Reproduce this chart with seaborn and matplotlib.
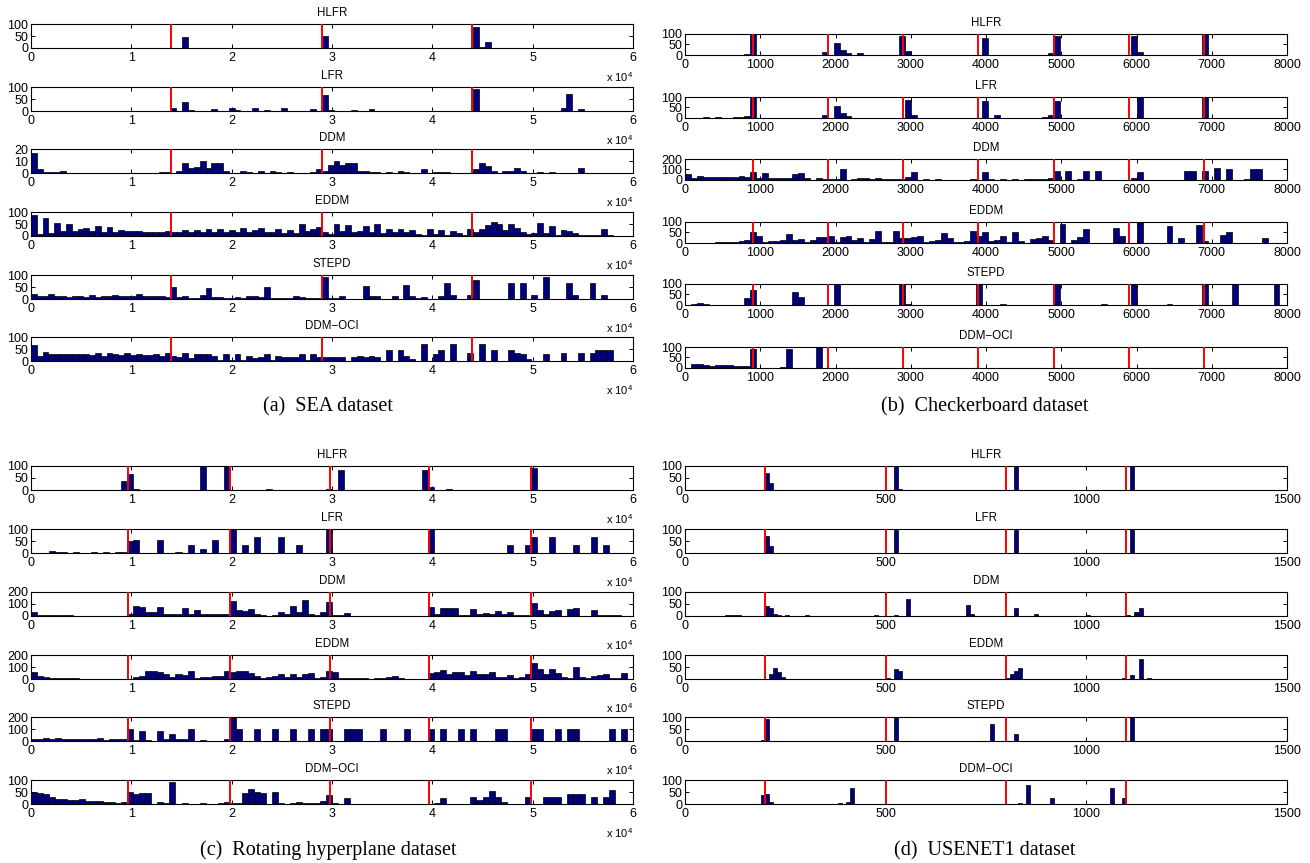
import numpy as np
import pandas as pd
import matplotlib
matplotlib.use("Agg")
import matplotlib.pyplot as plt
import seaborn as sns

# ---------------------------------------------------------------------------
# Detection-count histograms (bin index -> number of detections) per detector.
# Dense lists give every bin; dicts list only the non-empty bins.
# ---------------------------------------------------------------------------
DETECTORS = ["HLFR", "LFR", "DDM", "EDDM", "STEPD", "DDM\u2212OCI"]

# (a) SEA: 100 bins over 0..58000
SEA_EDGES = (0, 58000, 100)
SEA_DRIFTS = [14000, 29000, 44000]
SEA_YMAX = [100, 100, 20, 100, 100, 100]
SEA_HLFR = {11: 1, 13: 1, 15: 1, 26: 46, 30: 1, 35: 1, 40: 1, 45: 1, 50: 51, 51: 2,
            55: 1, 60: 1, 70: 1, 76: 89, 77: 3, 78: 24, 79: 2, 80: 1, 82: 1}
SEA_LFR = {1: 2, 3: 2, 6: 2, 10: 2, 12: 2, 14: 2, 17: 2, 19: 2, 21: 2, 24: 13, 26: 38,
           27: 6, 29: 2, 31: 7, 33: 2, 34: 12, 35: 3, 38: 12, 40: 3, 43: 12, 46: 2,
           48: 8, 50: 68, 51: 4, 53: 2, 55: 5, 58: 7, 61: 2, 63: 2, 66: 2, 69: 2,
           73: 2, 76: 92, 77: 2, 79: 2, 82: 2, 86: 2, 88: 2, 91: 12, 92: 70, 94: 10}
SEA_DDM = {0: 17, 1: 3, 2: 1, 3: 1, 4: 1, 5: 2, 22: 1, 23: 1, 25: 2, 26: 8, 27: 4,
           28: 5, 29: 10, 30: 4, 31: 8, 32: 8, 33: 2, 36: 2, 37: 1, 39: 2, 41: 2,
           42: 1, 44: 1, 48: 1, 49: 3, 50: 2, 51: 7, 52: 10, 53: 7, 54: 8, 55: 8,
           56: 2, 57: 2, 58: 1, 59: 1, 61: 1, 63: 2, 64: 1, 67: 3, 69: 1, 70: 1,
           71: 1, 76: 3, 77: 8, 78: 6, 79: 2, 81: 2, 82: 2, 83: 4, 84: 2, 87: 1,
           89: 1, 94: 4}
SEA_EDDM = [86, 8, 75, 12, 55, 20, 48, 22, 28, 32,
            20, 40, 15, 38, 18, 25, 22, 20, 22, 18,
            18, 15, 15, 20, 18, 15, 25, 15, 25, 18,
            30, 15, 28, 18, 25, 15, 32, 18, 25, 32,
            15, 15, 30, 12, 25, 12, 50, 22, 30, 38,
            18, 10, 50, 20, 45, 15, 22, 42, 18, 48,
            12, 30, 15, 30, 18, 25, 8, 5, 28, 10,
            25, 5, 20, 12, 5, 28, 15, 30, 45, 58,
            50, 25, 48, 35, 15, 10, 12, 55, 12, 40,
            5, 25, 20, 12, 3, 3, 3, 3, 28, 5]
SEA_STEPD = [20, 12, 12, 20, 12, 12, 10, 12, 12, 10,
             15, 10, 12, 12, 15, 12, 12, 12, 20, 12,
             12, 12, 12, 10, 50, 10, 12, 3, 3, 18,
             47, 10, 10, 3, 5, 8, 5, 12, 12, 10,
             50, 3, 5, 3, 5, 12, 8, 5, 3, 5,
             92, 3, 5, 12, 0, 0, 0, 55, 12, 12,
             0, 0, 12, 0, 57, 12, 5, 8, 0, 0,
             12, 65, 15, 0, 0, 18, 78, 0, 0, 0,
             0, 0, 67, 0, 67, 0, 18, 0, 90, 0,
             0, 0, 65, 15, 0, 0, 65, 0, 18, 0]
SEA_OCI = [68, 20, 38, 30, 28, 28, 30, 28, 28, 30,
           25, 35, 20, 35, 28, 25, 35, 25, 28, 25,
           25, 28, 20, 35, 22, 15, 35, 12, 28, 30,
           28, 22, 5, 28, 5, 30, 5, 20, 12, 15,
           28, 5, 20, 18, 18, 18, 28, 5, 28, 15,
           15, 15, 15, 15, 0, 15, 22, 18, 22, 18,
           0, 45, 0, 45, 20, 8, 0, 70, 0, 30,
           45, 0, 70, 0, 0, 35, 0, 70, 0, 45,
           0, 0, 45, 35, 30, 8, 0, 0, 30, 0,
           0, 35, 0, 0, 35, 0, 35, 45, 45, 45]

# (b) Checkerboard: 100 bins over 0..7900
CHK_EDGES = (0, 7900, 100)
CHK_DRIFTS = [900, 1900, 2900, 3900, 4900, 5900, 6900]
CHK_YMAX = [100, 100, 200, 100, 100, 100]
CHK_HLFR = {10: 3, 11: 100, 23: 15, 25: 55, 26: 22, 27: 8, 29: 8, 36: 90, 37: 18,
            50: 80, 61: 8, 62: 90, 75: 92, 76: 12, 87: 100}
CHK_LFR = {3: 3, 5: 3, 8: 3, 9: 3, 10: 8, 11: 100, 23: 15, 25: 55, 26: 25, 27: 8,
           37: 88, 38: 15, 50: 80, 52: 15, 60: 3, 61: 12, 62: 80, 76: 100, 87: 100}
CHK_DDM = {0: 55, 1: 15, 2: 40, 3: 25, 4: 32, 5: 32, 6: 25, 7: 30, 8: 25, 9: 40,
           10: 25, 11: 72, 12: 15, 13: 65, 14: 15, 15: 15, 16: 15, 17: 15, 18: 58,
           19: 70, 20: 22, 22: 15, 23: 10, 24: 10, 25: 5, 26: 100, 28: 8, 29: 15,
           30: 22, 31: 5, 32: 22, 33: 8, 34: 8, 35: 5, 36: 5, 37: 32, 38: 75, 39: 3,
           40: 8, 42: 8, 43: 3, 44: 3, 45: 3, 46: 3, 47: 3, 48: 5, 50: 80, 51: 10,
           53: 12, 55: 8, 57: 5, 58: 10, 59: 5, 60: 8, 61: 15, 62: 90, 64: 90, 66: 8,
           67: 90, 69: 90, 75: 15, 76: 80, 84: 84, 85: 84, 87: 84, 89: 118, 91: 103,
           92: 3, 94: 5, 95: 100, 96: 100}
CHK_EDDM = [0, 0, 0, 0, 0, 3, 3, 5, 5, 8,
            12, 50, 35, 3, 8, 8, 15, 45, 12, 20,
            3, 12, 28, 28, 35, 3, 28, 35, 15, 25,
            3, 20, 55, 5, 5, 55, 22, 25, 30, 35,
            3, 8, 12, 48, 25, 3, 3, 10, 55, 35,
            50, 8, 12, 35, 5, 50, 8, 0, 20, 25,
            35, 15, 0, 90, 0, 15, 28, 65, 0, 0,
            0, 0, 70, 35, 0, 0, 100, 0, 0, 0,
            0, 80, 0, 22, 0, 0, 85, 10, 0, 0,
            40, 50, 0, 0, 0, 0, 0, 22, 0, 0]
CHK_STEPD = {1: 3, 2: 8, 3: 3, 4: 2, 5: 2, 6: 2, 7: 2, 8: 2, 9: 2, 10: 35, 11: 72,
             18: 64, 19: 38, 25: 100, 36: 100, 37: 3, 49: 100, 53: 3, 58: 2, 62: 100,
             66: 2, 70: 3, 75: 100, 81: 3, 87: 100, 92: 100, 99: 100}
CHK_OCI = {1: 18, 2: 18, 3: 12, 4: 8, 5: 12, 6: 12, 7: 12, 8: 8, 9: 8, 10: 8, 11: 92,
           16: 5, 17: 90, 22: 98, 28: 2, 34: 2, 37: 2, 40: 2, 44: 2, 52: 2, 55: 2,
           58: 2, 62: 2, 65: 2, 68: 2, 72: 2, 74: 2, 80: 2, 85: 2, 90: 2, 97: 2}

# (c) Rotating hyperplane: 100 bins over 0..60000
ROT_EDGES = (0, 60000, 100)
ROT_DRIFTS = [9700, 19800, 29800, 39700, 49800]
ROT_YMAX = [100, 100, 200, 200, 200, 100]
ROT_HLFR = {15: 38, 16: 65, 17: 3, 28: 100, 32: 100, 39: 3, 41: 1, 43: 1, 49: 5,
            51: 82, 65: 85, 66: 12, 69: 3, 83: 90}
ROT_LFR = {3: 8, 4: 5, 5: 3, 7: 3, 10: 3, 12: 3, 14: 3, 15: 3, 16: 48, 17: 55,
           21: 55, 24: 3, 26: 34, 28: 18, 30: 55, 33: 100, 35: 35, 37: 65, 41: 65,
           44: 35, 49: 100, 66: 100, 79: 35, 82: 35, 83: 65, 86: 65, 90: 35, 93: 65,
           95: 35}
ROT_DDM = {0: 35, 1: 8, 2: 5, 3: 5, 4: 5, 5: 5, 6: 5, 7: 3, 8: 2, 9: 2, 10: 2,
           11: 2, 12: 2, 13: 2, 14: 2, 16: 20, 17: 85, 18: 75, 19: 30, 20: 35,
           21: 75, 22: 20, 23: 15, 24: 15, 25: 70, 26: 20, 27: 50, 28: 20, 29: 15,
           30: 15, 31: 20, 32: 15, 33: 125, 34: 50, 35: 40, 36: 60, 37: 15, 38: 5,
           40: 5, 41: 35, 42: 15, 43: 80, 44: 35, 45: 130, 46: 15, 47: 5, 48: 30,
           49: 120, 50: 12, 51: 10, 52: 25, 53: 3, 54: 3, 55: 3, 56: 3, 57: 3,
           58: 3, 59: 3, 61: 3, 62: 3, 66: 75, 67: 15, 68: 65, 69: 65, 70: 70,
           71: 12, 72: 12, 73: 60, 74: 15, 75: 25, 76: 20, 77: 40, 78: 15, 79: 35,
           80: 5, 81: 5, 82: 12, 83: 108, 84: 50, 85: 15, 86: 45, 87: 50, 89: 60,
           90: 70, 93: 50, 94: 5, 95: 5, 96: 5, 97: 5}
ROT_EDDM = [60, 28, 20, 12, 8, 5, 12, 5, 3, 3,
            2, 2, 2, 2, 2, 0, 3, 20, 25, 65,
            65, 60, 45, 15, 45, 35, 65, 5, 20, 15,
            25, 25, 65, 60, 65, 65, 50, 25, 5, 15,
            25, 45, 20, 40, 15, 40, 50, 5, 20, 63,
            57, 12, 12, 12, 12, 10, 3, 5, 5, 15,
            25, 10, 2, 2, 2, 0, 51, 55, 74, 45,
            55, 60, 30, 65, 40, 45, 55, 15, 20, 35,
            8, 15, 40, 130, 86, 40, 80, 50, 15, 8,
            97, 15, 8, 25, 35, 40, 10, 10, 50, 0]
ROT_STEPD = {0: 20, 1: 20, 2: 25, 3: 20, 4: 25, 5: 20, 6: 20, 7: 20, 8: 20, 9: 20,
             10: 20, 11: 25, 12: 12, 13: 20, 14: 20, 15: 20, 16: 100, 17: 10,
             18: 85, 19: 10, 21: 85, 22: 20, 23: 60, 24: 15, 25: 20, 26: 100,
             28: 10, 29: 3, 32: 20, 33: 200, 34: 100, 37: 100, 40: 100, 43: 100,
             46: 100, 48: 100, 49: 100, 52: 100, 53: 100, 54: 100, 58: 100,
             62: 100, 66: 100, 68: 100, 71: 100, 73: 100, 77: 100, 78: 100,
             83: 100, 84: 100, 87: 100, 89: 100, 90: 100, 96: 100, 98: 100}
ROT_OCI = {0: 52, 1: 45, 2: 42, 3: 28, 4: 22, 5: 22, 6: 15, 7: 15, 8: 20, 9: 12,
           10: 12, 11: 12, 12: 8, 13: 8, 14: 5, 15: 8, 16: 52, 17: 40, 18: 45,
           19: 45, 21: 8, 22: 5, 23: 93, 25: 5, 27: 2, 28: 3, 29: 2, 30: 2, 31: 3,
           32: 8, 33: 5, 34: 5, 35: 45, 36: 62, 37: 50, 38: 45, 40: 50, 41: 3,
           42: 2, 43: 5, 44: 8, 45: 5, 46: 3, 47: 5, 48: 12, 49: 38, 50: 5, 52: 25,
           67: 5, 68: 25, 73: 28, 74: 15, 75: 30, 76: 56, 77: 30, 78: 8, 82: 28,
           83: 2, 85: 28, 86: 28, 87: 28, 89: 42, 90: 42, 91: 42, 93: 28, 95: 30,
           96: 57}

# (d) USENET1: 150 bins over 0..1500
USE_EDGES = (0, 1500, 150)
USE_DRIFTS = [200, 500, 800, 1100]
USE_YMAX = [100, 100, 100, 100, 100, 100]
USE_HLFR = {19: 2, 20: 70, 21: 28, 52: 100, 53: 5, 82: 100, 111: 100}
USE_LFR = {20: 72, 21: 28, 52: 95, 82: 95, 111: 100}
USE_DDM = {10: 5, 11: 5, 12: 5, 13: 3, 20: 42, 21: 35, 22: 8, 23: 3, 25: 3, 30: 3,
           40: 2, 47: 3, 52: 5, 55: 70, 70: 45, 71: 10, 82: 35, 87: 8, 100: 3,
           110: 5, 112: 15, 113: 35}
USE_EDDM = {21: 20, 22: 45, 23: 30, 24: 10, 50: 5, 52: 40, 53: 32, 80: 5, 81: 20,
            82: 35, 83: 45, 109: 5, 111: 15, 113: 85, 115: 5}
USE_STEPD = {8: 2, 19: 3, 20: 90, 52: 100, 76: 70, 82: 28, 111: 100}
USE_OCI = {17: 2, 19: 38, 20: 40, 21: 10, 34: 2, 38: 5, 40: 8, 41: 65, 83: 5,
           85: 80, 91: 25, 106: 68, 109: 25, 133: 2}

# ---------------------------------------------------------------------------
# Styling
# ---------------------------------------------------------------------------
sns.set_theme(style="white")
plt.rcParams["font.family"] = ["Liberation Sans", "DejaVu Sans"]
plt.rcParams["mathtext.fontset"] = "custom"
plt.rcParams["mathtext.rm"] = "Liberation Sans"
plt.rcParams["mathtext.default"] = "regular"
plt.rcParams["axes.edgecolor"] = "black"
plt.rcParams["axes.linewidth"] = 0.8

NAVY = "#00007f"
FIG_W, FIG_H = 1310, 863
TICK_FS = 9
TITLE_FS = 8.3

fig = plt.figure(figsize=(FIG_W / 100, FIG_H / 100), dpi=100)
fig.patch.set_facecolor("white")


def to_counts(spec, n):
    if isinstance(spec, dict):
        c = np.zeros(n)
        for k, v in spec.items():
            c[k] = v
        return c
    return np.asarray(spec, dtype=float)


def add_axes_px(left, top, width, height):
    return fig.add_axes([left / FIG_W, 1 - (top + height) / FIG_H,
                         width / FIG_W, height / FIG_H])


def draw_group(left, tops, height, edges_spec, series, ymaxes, drifts,
               xlim, xticks, xlabels, sci):
    lo, hi, n = edges_spec
    edges = np.linspace(lo, hi, n + 1)
    centers = 0.5 * (edges[:-1] + edges[1:])
    for top, name, spec, ymax in zip(tops, DETECTORS, series, ymaxes):
        ax = add_axes_px(left, top, 602, height)
        frame = pd.DataFrame({"t": centers, "n": to_counts(spec, n)})
        sns.histplot(data=frame, x="t", weights="n", bins=list(edges), ax=ax,
                     color=NAVY, edgecolor="black", linewidth=0.5, alpha=1.0)
        for d in drifts:
            ax.axvline(d, color="#ff0000", lw=1.4, zorder=5)
        ax.set_xlim(*xlim)
        ax.set_ylim(0, ymax)
        ax.set_xticks(xticks)
        ax.set_xticklabels(xlabels)
        ax.set_yticks([0, ymax / 2, ymax])
        ax.set_yticklabels([str(int(v)) for v in (0, ymax / 2, ymax)])
        ax.set_xlabel("")
        ax.set_ylabel("")
        ax.tick_params(axis="both", direction="in", length=3, width=0.7,
                       colors="black", labelsize=TICK_FS,
                       top=True, right=True, bottom=True, left=True)
        ax.tick_params(axis="x", pad=3)
        ax.tick_params(axis="y", pad=2)
        for s in ax.spines.values():
            s.set_visible(True)
            s.set_color("black")
            s.set_linewidth(0.8)
        ax.set_title(name, fontsize=TITLE_FS, pad=6, color="black")
        if sci:
            ax.annotate(r"x 10$^{4}$", xy=(1, 0), xycoords="axes fraction",
                        xytext=(0, -21), textcoords="offset points",
                        ha="right", va="center", fontsize=8, color="black")


TOPS_A = [24, 87, 149, 212, 275, 337]
TOPS_B = [34, 97, 159, 222, 284, 347]
TOPS_CD = [466, 529, 592, 655, 717, 780]

sci_ticks = np.arange(0, 60001, 10000)
sci_labels = [str(i) for i in range(7)]

draw_group(31, TOPS_A, 24, SEA_EDGES,
           [SEA_HLFR, SEA_LFR, SEA_DDM, SEA_EDDM, SEA_STEPD, SEA_OCI],
           SEA_YMAX, SEA_DRIFTS, (0, 60000), sci_ticks, sci_labels, True)

chk_ticks = np.arange(0, 8001, 1000)
draw_group(685, TOPS_B, 21, CHK_EDGES,
           [CHK_HLFR, CHK_LFR, CHK_DDM, CHK_EDDM, CHK_STEPD, CHK_OCI],
           CHK_YMAX, CHK_DRIFTS, (0, 8000), chk_ticks,
           [str(int(t)) for t in chk_ticks], False)

draw_group(31, TOPS_CD, 24, ROT_EDGES,
           [ROT_HLFR, ROT_LFR, ROT_DDM, ROT_EDDM, ROT_STEPD, ROT_OCI],
           ROT_YMAX, ROT_DRIFTS, (0, 60000), sci_ticks, sci_labels, True)

use_ticks = [0, 500, 1000, 1500]
draw_group(685, TOPS_CD, 24, USE_EDGES,
           [USE_HLFR, USE_LFR, USE_DDM, USE_EDDM, USE_STEPD, USE_OCI],
           USE_YMAX, USE_DRIFTS, (0, 1500), use_ticks,
           [str(t) for t in use_ticks], False)

# Sub-figure captions
CAPTIONS = [("(a)  SEA dataset", 328, 411),
            ("(b)  Checkerboard dataset", 985, 411),
            ("(c)  Rotating hyperplane dataset", 328, 855),
            ("(d)  USENET1 dataset", 985, 855)]
for text, cx, cy in CAPTIONS:
    fig.text(cx / FIG_W, 1 - cy / FIG_H, text, ha="center", va="baseline",
             fontsize=14.5, family=["Liberation Serif", "DejaVu Serif"],
             color="black")

fig.savefig("out.png", dpi=100, facecolor="white")
